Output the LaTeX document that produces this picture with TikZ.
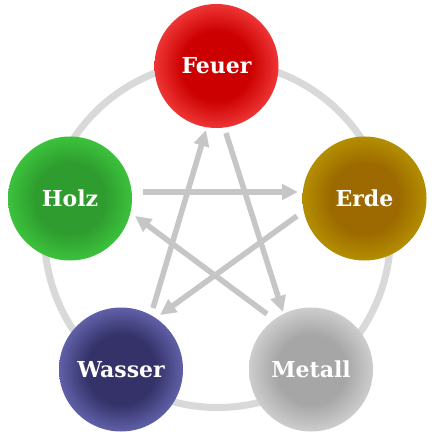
\documentclass[tikz,border=0pt]{standalone}
\usepackage{fontspec}
\setmainfont{DejaVu Serif}
\usetikzlibrary{arrows.meta}
\definecolor{ringc}{HTML}{D9D9D9}
\definecolor{arrc}{HTML}{C6C6C6}
\definecolor{fireIn}{HTML}{CC0000}
\definecolor{fireOut}{HTML}{EE3535}
\definecolor{woodIn}{HTML}{2E9C2E}
\definecolor{woodOut}{HTML}{3CC23C}
\definecolor{earthIn}{HTML}{9C6A00}
\definecolor{earthOut}{HTML}{B48E00}
\definecolor{waterIn}{HTML}{343268}
\definecolor{waterOut}{HTML}{6060A8}
\definecolor{metalIn}{HTML}{A6A6A6}
\definecolor{metalOut}{HTML}{CDCDCD}
\pgfdeclareradialshading{fireball}{\pgfpoint{0bp}{0bp}}{color(0bp)=(fireIn);color(14bp)=(fireIn);color(25bp)=(fireOut);color(50bp)=(fireOut)}
\pgfdeclareradialshading{woodball}{\pgfpoint{0bp}{0bp}}{color(0bp)=(woodIn);color(14bp)=(woodIn);color(25bp)=(woodOut);color(50bp)=(woodOut)}
\pgfdeclareradialshading{earthball}{\pgfpoint{0bp}{0bp}}{color(0bp)=(earthIn);color(14bp)=(earthIn);color(25bp)=(earthOut);color(50bp)=(earthOut)}
\pgfdeclareradialshading{waterball}{\pgfpoint{0bp}{0bp}}{color(0bp)=(waterIn);color(14bp)=(waterIn);color(25bp)=(waterOut);color(50bp)=(waterOut)}
\pgfdeclareradialshading{metalball}{\pgfpoint{0bp}{0bp}}{color(0bp)=(metalIn);color(14bp)=(metalIn);color(25bp)=(metalOut);color(50bp)=(metalOut)}
\begin{document}
\begin{tikzpicture}[x=1pt,y=-1pt,
  elem/.style={circle, minimum size=124pt, inner sep=0pt, text=white,
    font=\bfseries\fontsize{22}{25}\selectfont},
  flow/.style={draw=arrc, line width=5.5pt,
    -{Triangle[length=16pt,width=15pt]}}]
\useasboundingbox (0,0) rectangle (435,435);
\fill[white] (0,0) rectangle (435,435);
\draw[ringc, line width=7pt] (217.5,234.5) circle[radius=173];
\node[elem, shading=fireball] (F) at (216.5,66) {Feuer};
\node[elem, shading=woodball] (H) at (70,198.5) {Holz};
\node[elem, shading=earthball] (E) at (364.5,198.5) {Erde};
\node[elem, shading=waterball] (W) at (121,369.5) {Wasser};
\node[elem, shading=metalball] (M) at (311,369.5) {Metall};
\coordinate (h1) at (143,192);
\coordinate (e1) at (298,192);
\coordinate (e2) at (297,216);
\coordinate (w1) at (160,315);
\coordinate (w2) at (153,308);
\coordinate (f1) at (206,130);
\coordinate (f2) at (226,133);
\coordinate (m1) at (283,312);
\coordinate (m2) at (267,314);
\coordinate (h2) at (135,216);
\draw[flow] (h1) -- (e1);
\draw[flow] (e2) -- (w1);
\draw[flow] (w2) -- (f1);
\draw[flow] (f2) -- (m1);
\draw[flow] (m2) -- (h2);
\end{tikzpicture}
\end{document}
